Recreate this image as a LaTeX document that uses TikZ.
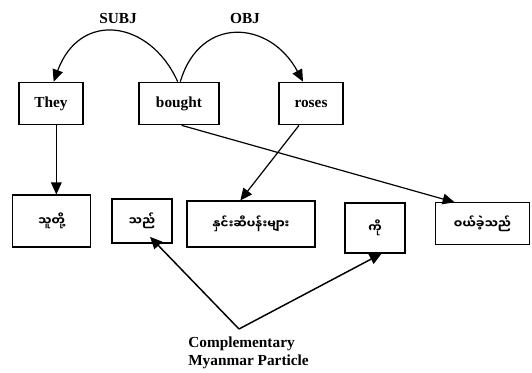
\documentclass[tikz,border=0pt]{standalone}
\usepackage{fontspec}
\setmainfont{Liberation Serif}
\newfontfamily\mmfont[Script=Myanmar]{Noto Sans Myanmar UI}
\usetikzlibrary{arrows.meta}
\begin{document}
\begin{tikzpicture}[x=0.75pt,y=-0.75pt,
  wordbox/.style={draw,line width=0.8pt,inner sep=0pt,font=\bfseries\fontsize{11.5}{13}\selectfont},
  mmbox/.style={draw,line width=0.8pt,inner sep=0pt,font=\mmfont\bfseries\fontsize{9}{10}\selectfont},
  link/.style={line width=0.9pt,-{Triangle[length=9pt,width=8pt]}},
  rel/.style={font=\bfseries\fontsize{11.5}{13}\selectfont}]
\useasboundingbox (0,0) rectangle (532,373);

% English words
\node[wordbox,minimum width=48pt,minimum height=32pt] (they)   at (51,103.5)  {They};
\node[wordbox,minimum width=60pt,minimum height=32pt] (bought) at (179,103.5) {bought};
\node[wordbox,minimum width=48pt,minimum height=32pt] (roses)  at (311,103.5) {roses};

% Myanmar words
\node[mmbox,minimum width=59pt,minimum height=39pt] (m1) at (51.5,221) {သူတို့};
\node[mmbox,minimum width=45pt,minimum height=33pt] (m2) at (142,221)  {\raisebox{3pt}{သည်}\hspace{12pt}};
\node[mmbox,minimum width=96pt,minimum height=34.5pt] (m3) at (251,224) {နှင်းဆီပန်းများ\hspace{10pt}};
\node[mmbox,minimum width=45pt,minimum height=37.5pt] (m4) at (375,228) {ကို\hspace{5pt}};
\node[mmbox,minimum width=71pt,minimum height=31pt] (m5) at (482.5,223.5) {ဝယ်ခဲ့သည်};

% dependency labels
\node[rel] (subj) at (118,19) {SUBJ};
\node[rel] (obj)  at (245,19) {OBJ};

% dependency arcs
\draw[link] ([xshift=-1]bought.north) .. controls (150,20) and (80,10) .. ([xshift=2]they.north);
\draw[link] ([xshift=1]bought.north) .. controls (200,15) and (270,20) .. ([xshift=-6]roses.north);

% alignment links
\draw[link] ([xshift=4]they.south) -- ([xshift=4]they.south |- m1.north);
\draw[link] ([xshift=-9]roses.south) -- ([xshift=-8]m3.north);
\draw[link] ([xshift=2]bought.south) -- ([xshift=15]m5.north west);

% particle note
\node[rel,align=left,anchor=north west,inner sep=0pt] (note) at (188,337) {Complementary\\Myanmar Particle};
\coordinate (apex) at (239,329);
\draw[link,line width=1.1pt] (apex) -- ([xshift=6,yshift=5]m2.south);
\draw[link,line width=1.1pt] (apex) -- ([xshift=5]m4.south);
\end{tikzpicture}
\end{document}
